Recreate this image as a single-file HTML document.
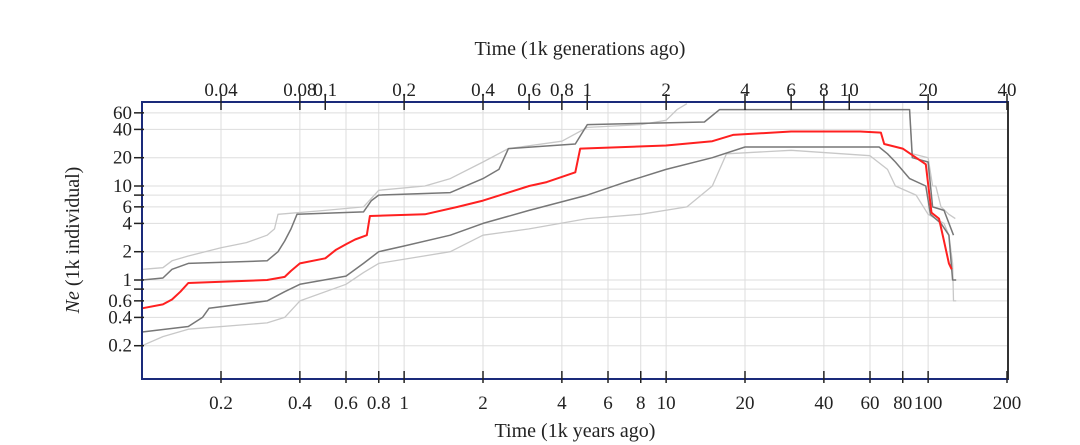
<!DOCTYPE html>
<html><head><meta charset="utf-8"><style>
html,body{margin:0;padding:0;background:#fff;}
svg{display:block;font-family:"Liberation Serif",serif;}
</style></head><body>
<svg id="s" width="1080" height="445" viewBox="0 0 1080 445"></svg>
<script>
const s=document.getElementById('s');
const L=142,R=1008,T=102,B=379;
const X=t=>221+262*Math.log10(t/0.2);
const Y=v=>280-94*Math.log10(v);
let h='';
const xt=[0.2,0.4,0.6,0.8,1,2,4,6,8,10,20,40,60,80,100];
const yt=[60,40,20,10,8,6,4,2,1,0.8,0.6,0.4,0.2];
xt.forEach(t=>h+=`<line x1="${X(t)}" x2="${X(t)}" y1="${T}" y2="${B}" stroke="#ddd" stroke-width="1"/>`);
yt.forEach(v=>h+=`<line x1="${L}" x2="${R}" y1="${Y(v)}" y2="${Y(v)}" stroke="#ddd" stroke-width="1"/>`);
function path(pts,c,w){
 let d='';pts.forEach((p,i)=>{d+=(i?'L':'M')+X(p[0]).toFixed(1)+','+Y(p[1]).toFixed(1);});
 h+=`<path d="${d}" fill="none" stroke="${c}" stroke-width="${w}" stroke-linejoin="round"/>`;
}
path([[0.1,1.3],[0.12,1.35],[0.13,1.6],[0.15,1.8],[0.2,2.2],[0.25,2.5],[0.3,3],[0.32,3.5],[0.33,5],[0.5,5.5],[0.7,6],[0.8,9],[1.2,10],[1.5,12],[2,18],[2.5,25],[4,30],[5,42],[8,45],[10,50],[11,65],[12,75]],'#c8c8c8',1.3);
path([[85,60],[87,22],[100,20],[104,10],[107,10],[112,6],[120,5],[127,4.5]],'#c8c8c8',1.3);
path([[0.1,0.2],[0.12,0.25],[0.15,0.3],[0.3,0.35],[0.35,0.4],[0.4,0.6],[0.6,0.9],[0.7,1.2],[0.8,1.5],[1.5,2],[2,3],[3,3.5],[5,4.5],[8,5],[12,6],[15,10],[17,22],[30,24],[60,21],[70,15],[75,10],[90,8],[100,5],[115,4],[120,3],[124,1.5],[125,0.6],[128,0.6]],'#c8c8c8',1.3);
path([[0.1,1.0],[0.12,1.05],[0.13,1.3],[0.15,1.5],[0.3,1.6],[0.33,2.0],[0.35,2.6],[0.37,3.5],[0.39,5],[0.7,5.3],[0.75,7],[0.8,8],[1.5,8.5],[2,12],[2.3,15],[2.5,25],[4.5,28],[5,45],[14,48],[16,65],[85,65],[87,20],[100,18],[104,6],[115,5.5],[125,3]],'#777',1.5);
path([[0.1,0.28],[0.15,0.32],[0.17,0.4],[0.18,0.5],[0.3,0.6],[0.35,0.75],[0.4,0.9],[0.6,1.1],[0.7,1.5],[0.8,2],[1,2.3],[1.5,3],[2,4],[3,5.5],[5,8],[7,11],[10,15],[15,20],[20,26],[65,26],[70,22],[75,18],[85,12],[98,10],[102,5],[112,4],[120,3],[124,1.0],[128,1.0]],'#777',1.5);
path([[0.1,0.5],[0.12,0.55],[0.13,0.62],[0.14,0.75],[0.15,0.93],[0.3,1.0],[0.35,1.08],[0.37,1.25],[0.4,1.5],[0.5,1.7],[0.55,2.1],[0.6,2.4],[0.65,2.7],[0.72,3.0],[0.74,4.8],[1.2,5],[1.6,6],[2,7],[2.5,8.5],[3,10],[3.5,11],[4.5,14],[4.7,25],[10,27],[15,30],[18,35],[30,38],[55,38],[66,37],[68,28],[80,25],[90,20],[98,17],[103,5.2],[110,4.5],[115,2.6],[120,1.5],[123,1.3]],'#ff2020',2);
h+=`<rect x="${L}" y="${T}" width="${R-L}" height="${B-T}" fill="none" stroke="#1a2a7a" stroke-width="2"/>`;
h+=`<line x1="${R}" x2="${R}" y1="${T}" y2="${B}" stroke="#333" stroke-width="2"/>`;
const xl={0.2:'0.2',0.4:'0.4',0.6:'0.6',0.8:'0.8',1:'1',2:'2',4:'4',6:'6',8:'8',10:'10',20:'20',40:'40',60:'60',80:'80',100:'100',200:'200'};
Object.keys(xl).forEach(k=>{const x=X(+k);
 h+=`<line x1="${x}" x2="${x}" y1="${B-8}" y2="${B+4}" stroke="#222" stroke-width="1.5"/>`;
 h+=`<text x="${x}" y="${B+30}" font-size="19" text-anchor="middle" fill="#222">${xl[k]}</text>`;
});
['0.04','0.08','0.1','0.2','0.4','0.6','0.8','1','2','4','6','8','10','20','40'].forEach(g=>{
 const x=X(+g*5);
 h+=`<line x1="${x}" x2="${x}" y1="${T-8}" y2="${T+8}" stroke="#222" stroke-width="1.5"/>`;
 h+=`<text x="${x}" y="${T-6}" font-size="19" text-anchor="middle" fill="#222">${g}</text>`;
});
[60,40,20,10,6,4,2,1,0.6,0.4,0.2].forEach(v=>h+=`<text x="${L-10}" y="${Y(v)+6}" font-size="19" text-anchor="end" fill="#222">${v}</text>`);
yt.forEach(v=>h+=`<line x1="${L-8}" x2="${L+2}" y1="${Y(v)}" y2="${Y(v)}" stroke="#222" stroke-width="1.5"/>`);
h+=`<text x="580" y="55" font-size="20" text-anchor="middle" fill="#222">Time (1k generations ago)</text>`;
h+=`<text x="575" y="437" font-size="20" text-anchor="middle" fill="#222">Time (1k years ago)</text>`;
h+=`<text transform="translate(79,240) rotate(-90)" font-size="20" text-anchor="middle" fill="#222"><tspan font-style="italic">Ne</tspan> (1k individual)</text>`;
s.innerHTML=h;
</script>
</body></html>
